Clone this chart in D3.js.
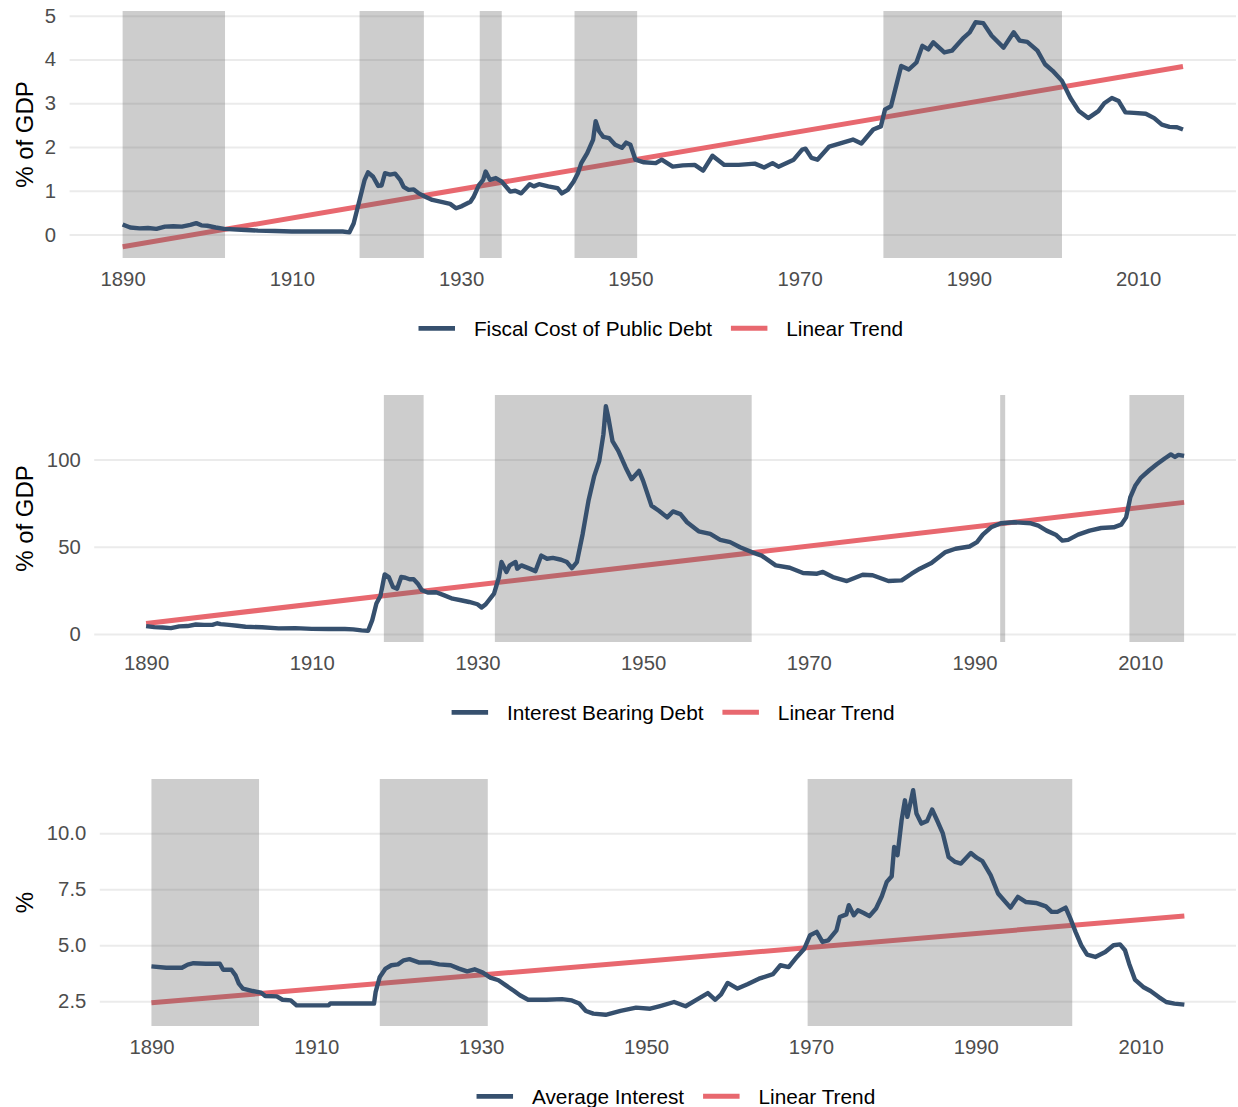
<!DOCTYPE html>
<html>
<head>
<meta charset="utf-8">
<script src="https://cdn.jsdelivr.net/npm/d3@7"></script>
<style>
  body { margin: 0; background: #fff; }
  svg { display: block; font-family: "Liberation Sans", Arial, sans-serif; }
</style>
</head>
<body>
<svg id="chart" width="1238" height="1107"></svg>
<script>
// ---- data ----
const yearTicks = [1890, 1910, 1930, 1950, 1970, 1990, 2010];

// fiscal cost of public debt, % of GDP
const costSeries = [[1890,0.23],[1890.9,0.16],[1892,0.14],[1893,0.15],[1894,0.13],[1895,0.18],[1896,0.19],[1897,0.18],[1898,0.22],[1898.7,0.26],[1899.3,0.21],[1900,0.2],[1901,0.16],[1902,0.13],[1904,0.11],[1906,0.09],[1908,0.08],[1910,0.07],[1913,0.07],[1916,0.07],[1916.8,0.05],[1917.3,0.25],[1918,0.79],[1918.6,1.25],[1919,1.42],[1919.6,1.32],[1920.2,1.11],[1920.6,1.12],[1921,1.40],[1921.6,1.37],[1922.2,1.39],[1922.8,1.25],[1923.2,1.09],[1923.8,1.02],[1924.4,1.03],[1925,0.94],[1925.7,0.87],[1926.6,0.79],[1927.8,0.74],[1928.7,0.70],[1929.4,0.60],[1930.1,0.65],[1931.1,0.75],[1931.5,0.87],[1932.1,1.13],[1932.6,1.25],[1932.9,1.44],[1933.4,1.25],[1934.1,1.29],[1934.8,1.21],[1935.8,0.98],[1936.4,1.0],[1937.1,0.94],[1938.1,1.15],[1938.6,1.1],[1939.2,1.15],[1940.3,1.1],[1941.4,1.06],[1941.9,0.94],[1942.6,1.02],[1943.3,1.21],[1943.8,1.4],[1944.2,1.63],[1944.9,1.86],[1945.6,2.17],[1945.9,2.59],[1946.3,2.36],[1946.8,2.23],[1947.5,2.2],[1948.2,2.05],[1949,1.98],[1949.5,2.1],[1950,2.05],[1950.6,1.71],[1951.6,1.65],[1953,1.63],[1953.7,1.71],[1955,1.55],[1956.2,1.58],[1957.6,1.59],[1958.6,1.46],[1959.7,1.8],[1961.1,1.59],[1962.8,1.59],[1964.7,1.62],[1965.8,1.53],[1966.8,1.63],[1967.5,1.55],[1969.3,1.71],[1970.3,1.94],[1970.7,1.96],[1971.4,1.75],[1972.1,1.71],[1973.5,2.01],[1974.9,2.09],[1976.3,2.17],[1977.3,2.08],[1978.7,2.4],[1979.6,2.47],[1980.1,2.86],[1980.8,2.93],[1981.5,3.47],[1982,3.85],[1982.9,3.77],[1983.8,3.93],[1984.5,4.31],[1985.2,4.23],[1985.8,4.39],[1987.1,4.16],[1988,4.2],[1989.4,4.5],[1990.1,4.62],[1990.8,4.85],[1991.7,4.83],[1992.7,4.54],[1994.1,4.27],[1995.3,4.62],[1996,4.43],[1996.9,4.4],[1998.1,4.2],[1999,3.89],[1999.9,3.74],[2001,3.51],[2002,3.12],[2003,2.82],[2004.1,2.66],[2005.3,2.82],[2006,3.0],[2006.9,3.12],[2007.7,3.05],[2008.5,2.79],[2009.5,2.78],[2010.9,2.76],[2011.9,2.66],[2012.8,2.51],[2013.7,2.46],[2014.6,2.45],[2015.3,2.4]];
const costTrend = [[1890,-0.28],[2015.3,3.84]];
const costShadeStart = [1890, 1918.0, 1932.2, 1943.4, 1979.9];
const costShadeEnd = [1902.1, 1925.6, 1934.8, 1950.8, 2001.0];
const costTicks = [0, 1, 2, 3, 4, 5];

// interest bearing debt, % of GDP
const debtSeries = [[1890,4.6],[1891,4.0],[1892,3.8],[1893,3.4],[1894,4.4],[1895,4.6],[1896,5.5],[1897,5.3],[1898,5.3],[1898.6,6.2],[1899,5.7],[1900,5.3],[1901,4.8],[1902,4.2],[1904,3.9],[1906,3.3],[1908,3.4],[1910,3.0],[1912,2.9],[1914,2.9],[1915,2.7],[1916,2.1],[1916.8,1.9],[1917.3,8],[1917.8,17.5],[1918.3,22],[1918.8,34.2],[1919.3,32.7],[1919.8,27],[1920.3,26],[1920.8,32.7],[1921.3,32.3],[1921.8,31.4],[1922.3,31.4],[1922.8,28.9],[1923.3,25.1],[1924,23.8],[1925,24],[1926,22.2],[1927,20.3],[1928,19.4],[1929,18.4],[1930,17.1],[1930.5,15.2],[1931,17.1],[1932,23.2],[1932.6,32.7],[1932.9,41.3],[1933.5,35.6],[1933.9,39.4],[1934.6,41.3],[1934.8,37.5],[1935.3,39.4],[1936.3,37.5],[1937,36.1],[1937.7,45],[1938.4,43.2],[1939.1,43.7],[1940.1,42.6],[1940.8,41.3],[1941.4,37.8],[1942,41.3],[1942.7,57.4],[1943.4,76.4],[1944.1,90.7],[1944.7,99.2],[1945.2,114.4],[1945.5,130.6],[1945.8,124],[1946.3,110.6],[1947,105],[1947.9,95.4],[1948.6,88.8],[1949.5,93.5],[1950,87.8],[1951,73.6],[1951.9,70.7],[1952.9,66.9],[1953.6,70.3],[1954.5,68.8],[1955.3,64.1],[1956.7,58.9],[1958.1,57.4],[1959.3,54],[1960.5,52.7],[1961.7,49.8],[1963.1,47],[1964.3,45],[1966,39.4],[1967.7,38],[1969.3,35],[1971,34.6],[1971.7,35.6],[1972.9,32.7],[1974.6,30.4],[1976.5,34],[1977.7,33.7],[1979.6,30.4],[1981.2,30.8],[1982.4,34.6],[1983.4,37.5],[1984.8,40.7],[1986.5,47],[1987.7,48.9],[1989.4,50.2],[1990.3,52.7],[1991,57],[1992,61.2],[1993.2,63.5],[1994.8,64.1],[1996.8,63.5],[1997.7,62.2],[1998.7,59.3],[1999.8,57],[2000.6,53.6],[2001.3,54],[2002.5,57],[2003.9,59.3],[2005.3,60.8],[2006.8,61.2],[2007.7,62.7],[2008.3,66.9],[2008.8,78.3],[2009.4,85],[2010.1,89.7],[2011.1,93.9],[2012,97.3],[2013,100.8],[2013.7,103],[2014.2,101.5],[2014.6,102.7],[2015.3,102.1]];
const debtTrend = [[1890,6.1],[2015.3,75.5]];
const debtShadeStart = [1918.7, 1932.1, 1993.1, 2008.7];
const debtShadeEnd = [1923.5, 1963.1, 1993.7, 2015.3];
const debtTicks = [0, 50, 100];

// average interest, %
const rateSeries = [[1890,4.06],[1891.8,4.0],[1893.7,4.0],[1894.4,4.14],[1895.1,4.2],[1896.6,4.18],[1898.3,4.18],[1898.7,3.91],[1899.7,3.91],[1900.2,3.66],[1900.6,3.29],[1901.1,3.07],[1902.3,2.96],[1903.3,2.89],[1903.8,2.74],[1905.2,2.72],[1905.9,2.57],[1906.9,2.54],[1907.6,2.32],[1909.1,2.32],[1911.5,2.32],[1911.7,2.4],[1914.8,2.4],[1917,2.4],[1917.2,2.92],[1917.7,3.59],[1918.4,3.96],[1919.1,4.11],[1919.9,4.15],[1920.6,4.33],[1921.3,4.38],[1922.5,4.23],[1923.9,4.23],[1924.9,4.15],[1926.3,4.11],[1927.3,3.96],[1928.3,3.84],[1929.2,3.93],[1930.2,3.78],[1931.1,3.56],[1932.1,3.44],[1933,3.21],[1934,2.96],[1934.7,2.77],[1935.7,2.57],[1937.9,2.57],[1939.8,2.6],[1941,2.54],[1941.9,2.4],[1942.7,2.07],[1943.6,1.95],[1945.1,1.9],[1946.9,2.07],[1948.8,2.22],[1950.5,2.17],[1951.7,2.29],[1953.4,2.47],[1954.8,2.28],[1956,2.54],[1957.5,2.87],[1958.4,2.57],[1959.1,2.81],[1959.9,3.32],[1961.1,3.07],[1962.3,3.26],[1963.7,3.51],[1965.4,3.71],[1966.3,4.11],[1967.3,4.03],[1968.3,4.48],[1969.2,4.85],[1969.9,5.45],[1970.7,5.6],[1971.4,5.15],[1972.1,5.22],[1973.1,5.67],[1973.5,6.26],[1974.3,6.38],[1974.6,6.79],[1975.2,6.34],[1975.7,6.56],[1976.4,6.44],[1977.1,6.3],[1977.9,6.64],[1978.6,7.19],[1979.2,7.83],[1979.8,8.08],[1980.1,9.39],[1980.5,9.02],[1981,10.58],[1981.4,11.47],[1981.7,10.73],[1982.1,11.4],[1982.4,11.92],[1982.8,10.88],[1983.4,10.43],[1984.1,10.55],[1984.7,11.06],[1985.3,10.58],[1986,9.99],[1986.7,8.94],[1987.5,8.72],[1988.2,8.65],[1989.4,9.12],[1990.1,8.91],[1990.8,8.76],[1991.8,8.13],[1992.7,7.31],[1994.2,6.68],[1995.1,7.16],[1996.1,6.93],[1997.3,6.89],[1998.5,6.74],[1999.2,6.49],[1999.9,6.49],[2000.9,6.68],[2001.4,6.26],[2002.1,5.6],[2002.8,5.0],[2003.5,4.58],[2004.5,4.48],[2005.7,4.7],[2006.7,5.0],[2007.5,5.04],[2008.1,4.78],[2008.6,4.18],[2009.3,3.47],[2010.3,3.14],[2011.2,2.96],[2012.2,2.69],[2013.1,2.47],[2014.1,2.4],[2015.3,2.35]];
const rateTrend = [[1890,2.44],[2015.3,6.31]];
const rateShadeStart = [1890, 1917.7, 1969.6];
const rateShadeEnd = [1903.05, 1930.8, 2001.7];
const rateTicks = [2.5, 5.0, 7.5, 10.0];

// ---- layout / style ----
const seriesColor = "#36506e";
const trendColor = "#e8686f";
const gridColor = "#ebebeb";
const fontTick = 20.3, fontTitle = 24, fontLegend = 20.8;
const panelRight = 1236, panelHeight = 247;

const panels = [
  { series: costSeries, trend: costTrend, s0: costShadeStart, s1: costShadeEnd, ticks: costTicks,
    fmt: d3.format("d"), title: "% of GDP", label: "Fiscal Cost of Public Debt", top: 11, left: 69.6 },
  { series: debtSeries, trend: debtTrend, s0: debtShadeStart, s1: debtShadeEnd, ticks: debtTicks,
    fmt: d3.format("d"), title: "% of GDP", label: "Interest Bearing Debt", top: 395, left: 94.2 },
  { series: rateSeries, trend: rateTrend, s0: rateShadeStart, s1: rateShadeEnd, ticks: rateTicks,
    fmt: d3.format(".1f"), title: "%", label: "Average Interest", top: 779, left: 99.8 }
];

const svg = d3.select("#chart");

// ggplot style 5% expansion
function expand(ext) {
  const pad = (ext[1] - ext[0]) * 0.05;
  return [ext[0] - pad, ext[1] + pad];
}

panels.forEach((p) => {
  const bottom = p.top + panelHeight;
  const allVals = p.series.map(d => d[1]).concat(p.trend.map(d => d[1]));

  const x = d3.scaleLinear()
    .domain(expand(d3.extent(p.series, d => d[0])))
    .range([p.left, panelRight]);
  const y = d3.scaleLinear()
    .domain(expand(d3.extent(allVals)))
    .range([bottom, p.top]);

  const g = svg.append("g");

  // horizontal grid
  g.append("g")
    .attr("transform", `translate(${p.left},0)`)
    .call(d3.axisLeft(y).tickValues(p.ticks).tickSize(-(panelRight - p.left)).tickFormat(""))
    .call(a => a.select(".domain").remove())
    .call(a => a.selectAll("line").attr("stroke", gridColor).attr("stroke-width", 2));

  // y tick labels
  g.append("g")
    .attr("transform", `translate(${p.left - 13.5},0)`)
    .call(d3.axisLeft(y).tickValues(p.ticks).tickSize(0).tickPadding(0).tickFormat(p.fmt))
    .call(a => a.select(".domain").remove())
    .call(a => a.selectAll("text")
      .attr("fill", "#4d4d4d")
      .style("font-size", fontTick + "px")
      .style("font-family", "'Liberation Sans', Arial, sans-serif"));

  // x tick labels
  g.append("g")
    .attr("transform", `translate(0,${bottom + 21})`)
    .call(d3.axisBottom(x).tickValues(yearTicks).tickSize(0).tickPadding(0).tickFormat(d3.format("d")))
    .call(a => a.select(".domain").remove())
    .call(a => a.selectAll("text")
      .attr("dy", "0.35em")
      .attr("y", 0)
      .attr("fill", "#4d4d4d")
      .style("font-size", fontTick + "px")
      .style("font-family", "'Liberation Sans', Arial, sans-serif"));

  // y axis title
  g.append("text")
    .attr("transform", `translate(25,${(p.top + bottom) / 2}) rotate(-90)`)
    .attr("text-anchor", "middle")
    .attr("dy", "0.35em")
    .style("font-size", fontTitle + "px")
    .attr("fill", "#000")
    .text(p.title);

  const line = d3.line().x(d => x(d[0])).y(d => y(d[1]));

  // linear trend
  g.append("path")
    .datum(p.trend)
    .attr("d", line)
    .attr("fill", "none")
    .attr("stroke", trendColor)
    .attr("stroke-width", 5);

  // shaded periods
  g.selectAll(".shade")
    .data(d3.zip(p.s0, p.s1))
    .join("rect")
    .attr("class", "shade")
    .attr("x", d => x(d[0]))
    .attr("width", d => x(d[1]) - x(d[0]))
    .attr("y", p.top)
    .attr("height", panelHeight)
    .attr("fill", "#666666")
    .attr("fill-opacity", 0.33);

  // the series
  g.append("path")
    .datum(p.series)
    .attr("d", line)
    .attr("fill", "none")
    .attr("stroke", seriesColor)
    .attr("stroke-width", 4.4)
    .attr("stroke-linejoin", "round");

  // legend
  const legY = bottom + 70.3;
  const leg = g.append("g");
  const items = [{ c: seriesColor, t: p.label, w: 4.8 }, { c: trendColor, t: "Linear Trend", w: 5 }];
  let cx = 0;
  items.forEach((it, i) => {
    if (i > 0) cx += 18.9;
    leg.append("line")
      .attr("x1", cx).attr("x2", cx + 36.5)
      .attr("y1", legY).attr("y2", legY)
      .attr("stroke", it.c).attr("stroke-width", it.w);
    cx += 36.5 + 18.9;
    const t = leg.append("text")
      .attr("x", cx).attr("y", legY)
      .attr("dy", "0.35em")
      .style("font-size", fontLegend + "px")
      .attr("fill", "#000")
      .text(it.t);
    cx += t.node().getComputedTextLength();
  });
  const legCenter = (p.left + panelRight) / 2 + 8;
  leg.attr("transform", `translate(${legCenter - cx / 2},0)`);
});
</script>
</body>
</html>
